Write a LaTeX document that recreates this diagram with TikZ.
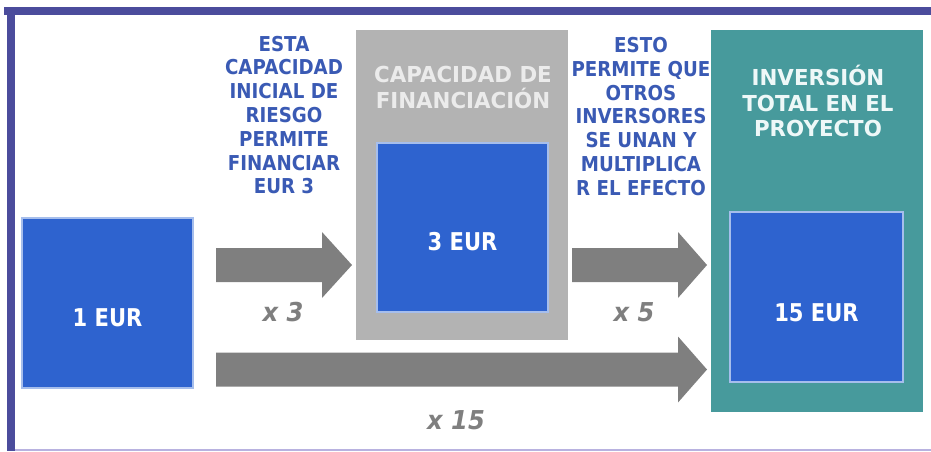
\documentclass[tikz,border=0pt]{standalone}
\usepackage{fontspec}
\setmainfont{DejaVu Sans}
\newfontfamily\sidefont[FakeStretch=0.89]{DejaVu Sans}
\newfontfamily\boxfont[FakeStretch=0.86]{DejaVu Sans}
\newfontfamily\titlefont[FakeStretch=0.97]{DejaVu Sans}
\newfontfamily\multfont[FakeStretch=0.93]{DejaVu Sans}
\definecolor{framec}{HTML}{4B4C9C}
\definecolor{framel}{HTML}{B8B2E0}
\definecolor{boxblue}{HTML}{2E63CF}
\definecolor{boxedge}{HTML}{A6BEEC}
\definecolor{graybox}{HTML}{B3B3B3}
\definecolor{tealbox}{HTML}{479A9C}
\definecolor{arrowc}{HTML}{7F7F7F}
\definecolor{labelblue}{HTML}{3A5AB4}
\definecolor{titlegray}{HTML}{EBEBEB}
\definecolor{titleteal}{HTML}{EEF8F8}
\begin{document}
\begin{tikzpicture}[x=1pt,y=-1pt,
  bluebox/.style={fill=boxblue,draw=boxedge,line width=1.2pt},
  boxlabel/.style={text=white,font=\boxfont\bfseries\fontsize{24.5}{28}\selectfont},
  sidelabel/.style={text=labelblue,align=center,font=\sidefont\bfseries\fontsize{20.5}{23.8}\selectfont},
  title/.style={align=center,font=\titlefont\bfseries\fontsize{22}{25.5}\selectfont},
  mult/.style={text=arrowc,font=\multfont\bfseries\itshape\fontsize{26}{30}\selectfont},
  blockarrow/.style={fill=arrowc}]
\useasboundingbox (0,0) rectangle (931,451);
% frame
\fill[framec] (4,7) rectangle (931,15);
\fill[framec] (7,7) rectangle (15,451);
\fill[framel] (15,449) rectangle (931,451);
% containers
\fill[graybox] (356,30) rectangle (568,340);
\fill[tealbox] (711,30) rectangle (923,412);
\node[title,text=titlegray] (gtitle) at (463,87.5) {CAPACIDAD DE\\FINANCIACIÓN};
\node[title,text=titleteal] (ttitle) at (818,101) {INVERSIÓN\\TOTAL EN EL\\PROYECTO};
% blue boxes
\draw[bluebox] (22,218) rectangle (193,388);
\node[boxlabel] (one) at (107.5,318) {1 EUR};
\draw[bluebox] (377,143) rectangle (548,312);
\node[boxlabel] (three) at (462.5,242) {3 EUR};
\draw[bluebox] (730,212) rectangle (903,382);
\node[boxlabel] (fifteen) at (816.5,313) {15 EUR};
% block arrows
\coordinate (a1s) at (216,265);
\coordinate (a1t) at (352,265);
\fill[blockarrow] ([yshift=-17]a1s) -- ([xshift=-30,yshift=-17]a1t) -- ([xshift=-30,yshift=-33]a1t) -- (a1t)
  -- ([xshift=-30,yshift=33]a1t) -- ([xshift=-30,yshift=17]a1t) -- ([yshift=17]a1s) -- cycle;
\coordinate (a2s) at (572,265);
\coordinate (a2t) at (707,265);
\fill[blockarrow] ([yshift=-17]a2s) -- ([xshift=-29,yshift=-17]a2t) -- ([xshift=-29,yshift=-33]a2t) -- (a2t)
  -- ([xshift=-29,yshift=33]a2t) -- ([xshift=-29,yshift=17]a2t) -- ([yshift=17]a2s) -- cycle;
\coordinate (a3s) at (216,369.5);
\coordinate (a3t) at (707,369.5);
\fill[blockarrow] ([yshift=-17]a3s) -- ([xshift=-29,yshift=-17]a3t) -- ([xshift=-29,yshift=-33]a3t) -- (a3t)
  -- ([xshift=-29,yshift=33]a3t) -- ([xshift=-29,yshift=17]a3t) -- ([yshift=17]a3s) -- cycle;
\node[mult] (m3) at (283,312) {x 3};
\node[mult] (m5) at (634,312) {x 5};
\node[mult] (m15) at (456,420) {x 15};
% side labels
\node[sidelabel] (left) at (284,115) {ESTA\\CAPACIDAD\\INICIAL DE\\RIESGO\\PERMITE\\FINANCIAR\\EUR 3};
\node[sidelabel] (right) at (641,116.5) {ESTO\\PERMITE QUE\\OTROS\\INVERSORES\\SE UNAN Y\\MULTIPLICA\\R EL EFECTO};
\end{tikzpicture}
\end{document}
